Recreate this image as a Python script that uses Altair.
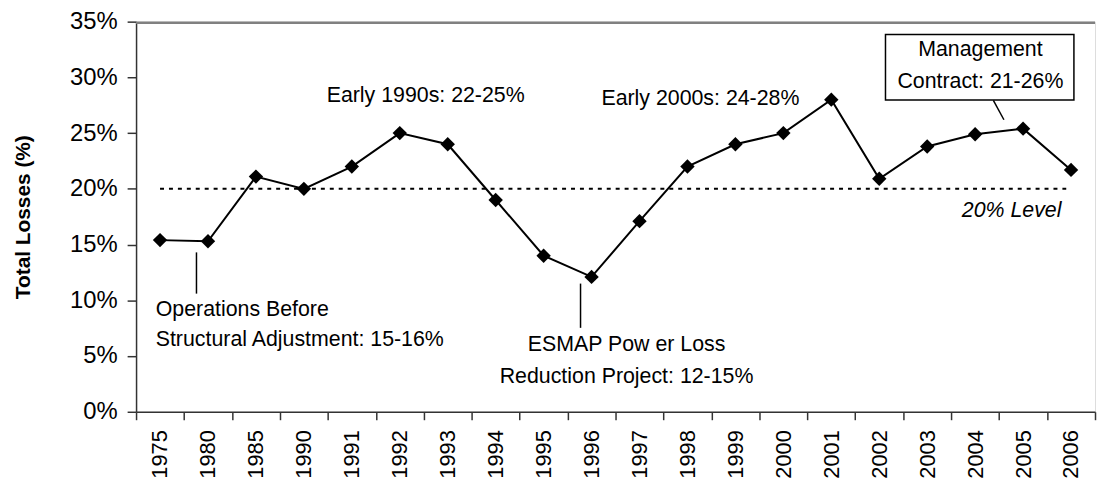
import altair as alt
import pandas as pd

years = ["1975", "1980", "1985", "1990", "1991", "1992", "1993", "1994", "1995", "1996",
         "1997", "1998", "1999", "2000", "2001", "2002", "2003", "2004", "2005", "2006"]
losses = [15.4, 15.3, 21.1, 20.0, 22.0, 25.0, 24.0, 19.0, 14.0, 12.1,
          17.1, 22.0, 24.0, 25.0, 28.0, 20.9, 23.8, 24.9, 25.4, 21.7]
y_ticks = [0, 5, 10, 15, 20, 25, 30, 35]
level_value = 20
top_value = 34.9

# annotation texts (position in band units along the x axis, value in %)
center_texts = ["Early 1990s: 22-25%", "Early 2000s: 24-28%", "ESMAP Pow er Loss",
                "Reduction Project: 12-15%", "Management", "Contract: 21-26%"]
center_pos = [6.04, 11.77, 10.23, 10.23, 17.61, 17.61]
center_val = [28.33, 28.1, 6.03, 3.10, 32.45, 29.6]

left_texts = ["Operations Before", "Structural Adjustment: 15-16%"]
left_pos = [0.41, 0.41]
left_val = [9.13, 6.47]

level_text = ["20% Level"]
level_pos = [19.3]
level_val = [18.0]

# pointer lines: start/end in band units and %
ptr_x1 = [1.26, 9.27, 17.88]
ptr_x2 = [1.26, 9.27, 18.1]
ptr_y1 = [14.3, 11.5, 27.94]
ptr_y2 = [10.6, 7.53, 26.2]

box_x1, box_x2, box_y1, box_y2 = [15.63], [19.56], [33.85], [27.97]

W, H = 966, 393
FONT = "Liberation Sans"
ANN_SIZE = 21.5

df = pd.DataFrame({"year": years, "loss": losses})

yaxis = alt.Axis(title="Total Losses (%)", values=y_ticks,
                 labelExpr="datum.value + '%'", tickSize=9,
                 labelPadding=10, labelFontSize=24, labelColor="black",
                 labelFont=FONT, titleFont=FONT, titleFontSize=21,
                 titleFontWeight="bold", titleColor="black",
                 titleX=-113, titleY=H / 2, titleBaseline="middle",
                 titleAlign="center", titleAngle=-90,
                 domainColor="#333333", tickColor="#333333",
                 domainWidth=1.5, tickWidth=1.5, grid=False)
yscale = alt.Scale(domain=[0, 35], nice=False)

xband = alt.X("year:N", sort=years, bandPosition=0.5,
              scale=alt.Scale(type="band", paddingInner=0, paddingOuter=0),
              axis=alt.Axis(title=None, labelAngle=-90, tickBand="extent",
                            tickSize=8, labelPadding=10, labelFontSize=22,
                            labelColor="black", domainColor="#333333",
                            tickColor="#333333", domainWidth=1.5, tickWidth=1.5,
                            labelFont=FONT, grid=False))
yenc = alt.Y("loss:Q", scale=yscale, axis=yaxis)

line = alt.Chart(df).mark_line(color="black", strokeWidth=2).encode(x=xband, y=yenc)
pts = alt.Chart(df).mark_point(shape="diamond", filled=True, size=210,
                               color="black", opacity=1).encode(x=xband, y=yenc)
main = alt.layer(line, pts)

xq_scale = alt.Scale(domain=[0, 20], nice=False, zero=False)


def xq(field):
    return alt.X(field, type="quantitative", scale=xq_scale, axis=None)


def yq(field):
    return alt.Y(field, type="quantitative", scale=yscale, axis=yaxis)


# grey top frame line of the plot area
top_df = pd.DataFrame({"x1": [0.0], "x2": [20.0], "y": [top_value]})
top_line = alt.Chart(top_df).mark_rule(stroke="#808080", strokeWidth=2.5,
                                       opacity=1).encode(
    x=xq("x1"), x2="x2", y=yq("y"))

lvl_df = pd.DataFrame({"x1": [0.5], "x2": [19.4], "y": [level_value]})
lvl = alt.Chart(lvl_df).mark_rule(color="black", strokeWidth=2, strokeDash=[4, 5]).encode(
    x=xq("x1"), x2="x2", y=yq("y"))

ptr_df = pd.DataFrame({"x1": ptr_x1, "x2": ptr_x2, "y1": ptr_y1, "y2": ptr_y2})
ptrs = alt.Chart(ptr_df).mark_rule(color="black", strokeWidth=1.5).encode(
    x=xq("x1"), x2="x2", y=yq("y1"), y2="y2")

box_df = pd.DataFrame({"x1": box_x1, "x2": box_x2, "y1": box_y1, "y2": box_y2})
box = alt.Chart(box_df).mark_rect(fill="white", stroke="black", strokeWidth=1.5).encode(
    x=xq("x1"), x2="x2", y=yq("y1"), y2="y2")

c_df = pd.DataFrame({"p": center_pos, "v": center_val, "t": center_texts})
ctext = alt.Chart(c_df).mark_text(align="center", baseline="middle", fontSize=ANN_SIZE,
                                  font=FONT, color="black").encode(
    x=xq("p"), y=yq("v"), text="t:N")

l_df = pd.DataFrame({"p": left_pos, "v": left_val, "t": left_texts})
ltext = alt.Chart(l_df).mark_text(align="left", baseline="middle", fontSize=ANN_SIZE,
                                  font=FONT, color="black").encode(
    x=xq("p"), y=yq("v"), text="t:N")

r_df = pd.DataFrame({"p": level_pos, "v": level_val, "t": level_text})
rtext = alt.Chart(r_df).mark_text(align="right", baseline="middle", fontSize=ANN_SIZE,
                                  font=FONT, fontStyle="italic", color="black").encode(
    x=xq("p"), y=yq("v"), text="t:N")

annot = alt.layer(lvl, ptrs, box, ctext, ltext, rtext, top_line)

chart = alt.layer(main, annot).resolve_scale(
    x="independent"
).properties(
    width=W, height=H,
    autosize=alt.AutoSizeParams(type="none"),
    padding={"left": 129, "top": 12, "right": 2, "bottom": 70},
).configure_view(stroke=None).configure(background="white")

chart.save("out.html", embed_options={"renderer": "svg", "actions": False})
